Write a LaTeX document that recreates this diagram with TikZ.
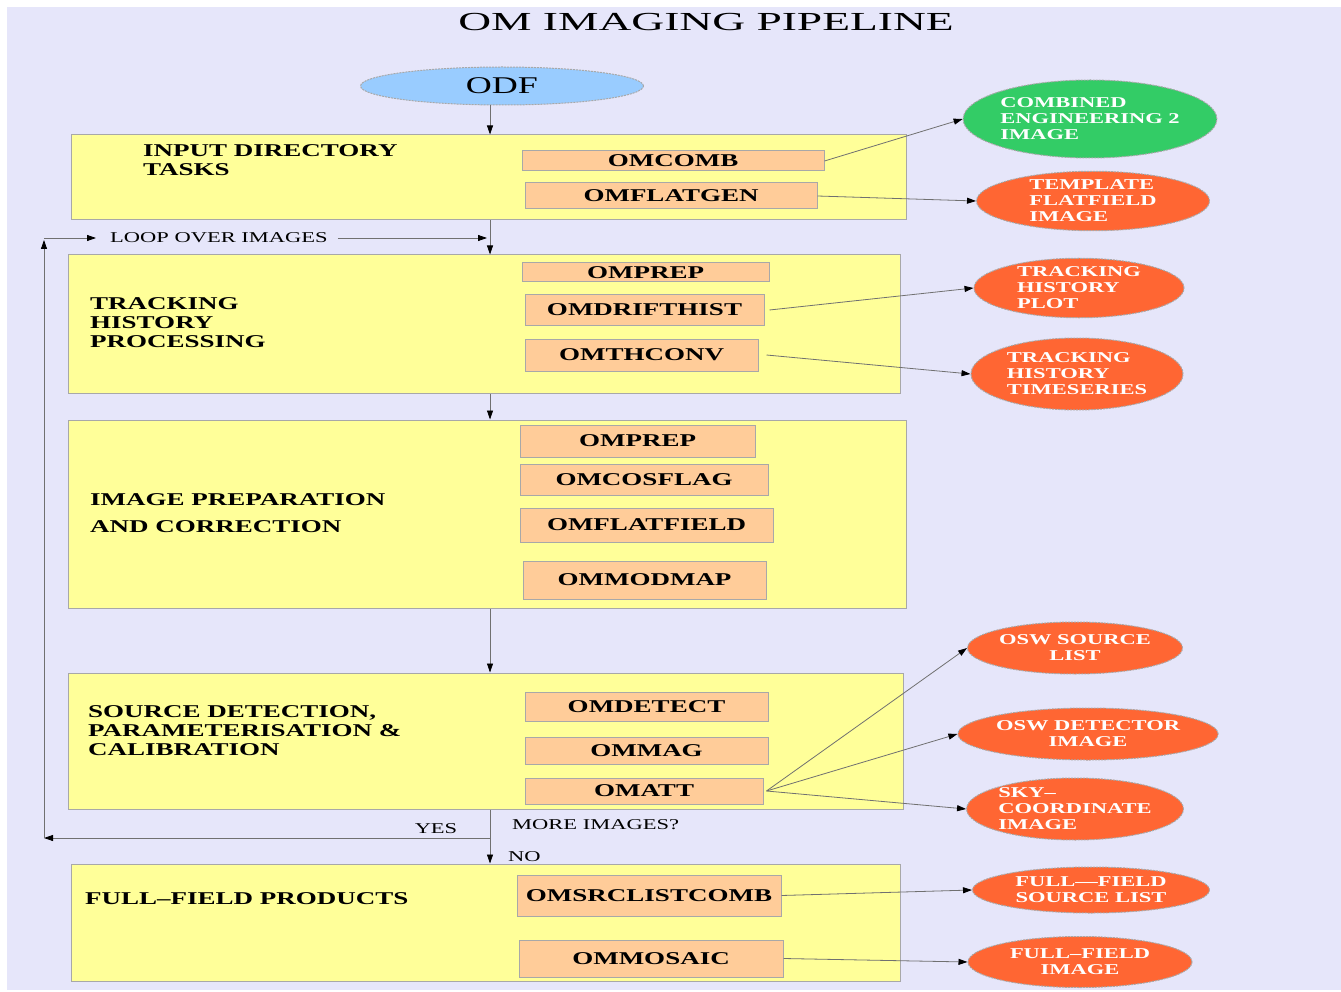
\documentclass[tikz,border=0pt]{standalone}
\usepackage{fontspec}
\setmainfont{Liberation Serif}[FakeStretch=1.5]
\newfontfamily\titlefont{Liberation Serif}[FakeStretch=1.75]
\usetikzlibrary{shapes.geometric,arrows.meta,fit}
\definecolor{bglav}{HTML}{E6E6FA}
\definecolor{stageyellow}{HTML}{FFFF99}
\definecolor{taskorange}{HTML}{FFCC99}
\definecolor{prodred}{HTML}{FF6633}
\definecolor{prodgreen}{HTML}{33CC66}
\definecolor{odfblue}{HTML}{99CCFF}
\definecolor{bordergray}{HTML}{A8A8A8}
\definecolor{linegray}{HTML}{707070}
\tikzset{
  stage/.style={draw=bordergray, fill=stageyellow, inner sep=0pt, line width=1pt},
  task/.style={draw=bordergray, fill=taskorange, inner sep=0pt, line width=1pt},
  tasktext/.style={inner sep=0pt, font=\fontsize{18}{19}\selectfont\bfseries},
  stagelabel/.style={anchor=west, align=left, inner sep=0pt,
    font=\fontsize{18}{19}\selectfont\bfseries},
  prod/.style={ellipse, draw=bordergray, dash pattern=on 2pt off 1pt, line width=1pt,
    fill=prodred, inner sep=0pt, text=white, align=left,
    font=\fontsize{15}{16}\selectfont\bfseries},
  small/.style={inner sep=0pt, font=\fontsize{15}{16}\selectfont},
  conn/.style={draw=linegray, line width=0.8pt,
    -{Triangle[length=9pt,width=6pt,color=black]}},
  plain/.style={draw=linegray, line width=0.8pt}
}
\begin{document}
\begin{tikzpicture}[x=1pt,y=-1pt]
\path[use as bounding box, fill=white] (0,0) rectangle (1341,992);
\fill[bglav] (7,7) rectangle (1341,990);

% title
\node[inner sep=0pt, font=\titlefont\fontsize{26}{28}\selectfont] (title) at (706,22) {OM IMAGING PIPELINE};

% ODF
\node[ellipse, draw=bordergray, dash pattern=on 2pt off 1pt, line width=1pt, fill=odfblue,
  minimum width=283pt, minimum height=38pt, inner sep=0pt,
  font=\fontsize{24}{26}\selectfont] (odf) at (502,86) {ODF};

\coordinate (mainx) at (490,0);

% stage 1
\node[stage, fit={(71,135) (906,220)}] (b1) {};
\node[stagelabel] (l1) at (143,160) {INPUT DIRECTORY\\TASKS};
\node[task, fit={(522,151) (824,171)}, label={[tasktext]center:OMCOMB}] (omcomb) {};
\node[task, fit={(525,183) (817,209)}, label={[tasktext]center:OMFLATGEN}] (omflatgen) {};
\node[prod, fill=prodgreen, minimum width=239pt, minimum height=78pt] (ce2) at (1090,119) {COMBINED\\ENGINEERING 2\\IMAGE};
\node[prod, minimum width=233pt, minimum height=51pt] (tff) at (1093,201) {TEMPLATE\\FLATFIELD\\IMAGE};

% stage 2
\node[stage, fit={(68,255) (900,393)}] (b2) {};
\node[stagelabel] (l2) at (90,323) {TRACKING\\HISTORY\\PROCESSING};
\node[task, fit={(522,263) (769,282)}, label={[tasktext]center:OMPREP}] (omprepa) {};
\node[task, fit={(525,295) (764,325)}, label={[tasktext]center:OMDRIFTHIST}] (omdrift) {};
\node[task, fit={(525,339) (758,371)}, label={[tasktext]center:OMTHCONV}] (omthconv) {};
\node[prod, minimum width=210pt, minimum height=58pt] (thp) at (1079,288) {TRACKING\\HISTORY\\PLOT};
\node[prod, minimum width=212pt, minimum height=72pt] (tht) at (1077,374) {TRACKING\\HISTORY\\TIMESERIES};

% stage 3
\node[stage, fit={(68,420) (906,608)}] (b3) {};
\node[stagelabel, font=\fontsize{18}{27}\selectfont\bfseries] (l3) at (90,513) {IMAGE PREPARATION\\AND CORRECTION};
\node[task, fit={(520,425) (755,457)}, label={[tasktext]center:OMPREP}] (omprepb) {};
\node[task, fit={(520,464) (768,495)}, label={[tasktext]center:OMCOSFLAG}] (omcosflag) {};
\node[task, fit={(520,508) (773,542)}, label={[tasktext]center:OMFLATFIELD}] (omflatfield) {};
\node[task, fit={(523,561) (766,599)}, label={[tasktext]center:OMMODMAP}] (ommodmap) {};

% stage 4
\node[stage, fit={(68,673) (903,809)}] (b4) {};
\node[stagelabel] (l4) at (88,731) {SOURCE DETECTION,\\PARAMETERISATION \&\\CALIBRATION};
\node[task, fit={(525,692) (768,721)}, label={[tasktext]center:OMDETECT}] (omdetect) {};
\node[task, fit={(525,737) (768,764)}, label={[tasktext]center:OMMAG}] (ommag) {};
\node[task, fit={(525,778) (763,804)}, label={[tasktext]center:OMATT}] (omatt) {};
\node[prod, align=center, minimum width=215pt, minimum height=52pt] (oswsrc) at (1075,648) {OSW SOURCE\\LIST};
\node[prod, align=center, minimum width=222pt, minimum height=52pt] (oswdet) at (1088,734) {OSW DETECTOR\\IMAGE};
\node[prod, minimum width=215pt, minimum height=62pt] (sky) at (1075,809) {SKY–\\COORDINATE\\IMAGE};

% stage 5
\node[stage, fit={(71,864) (900,981)}] (b5) {};
\node[stagelabel] (l5) at (85,899) {FULL–FIELD PRODUCTS};
\node[task, fit={(517,875) (781,916)}, label={[tasktext]center:OMSRCLISTCOMB}] (omsrclist) {};
\node[task, fit={(519,940) (783,977)}, label={[tasktext]center:OMMOSAIC}] (ommosaic) {};
\node[prod, align=center, minimum width=237pt, minimum height=46pt] (ffsrc) at (1091,890) {FULL—FIELD\\SOURCE LIST};
\node[prod, align=center, minimum width=224pt, minimum height=51pt] (ffimg) at (1080,962) {FULL–FIELD\\IMAGE};

% loop labels
\node[small, anchor=west] (loop) at (110,238) {LOOP OVER IMAGES};
\node[small, anchor=west] (more) at (512,825) {MORE IMAGES?};
\node[small] (yes) at (436,829) {YES};
\node[small, anchor=west] (no) at (508,857) {NO};

\coordinate (dec) at (490,838);
\coordinate (yesL) at (44,838);
\coordinate (loopC) at (44,240);
\coordinate (loopS) at (44,238);
\coordinate (loopE) at (487,238);

% main flow
\draw[conn] (odf.south -| mainx) -- (b1.north -| mainx);
\draw[conn] (b1.south -| mainx) -- (b2.north -| mainx);
\draw[conn] (b2.south -| mainx) -- (b3.north -| mainx);
\draw[conn] (b3.south -| mainx) -- (b4.north -| mainx);
\draw[plain] (b4.south -| mainx) -- (dec);
\draw[conn] (dec) -- (b5.north -| mainx);
\draw[conn] (dec) -- (yesL);
\draw[conn] (yesL) -- (loopC);
\draw[conn] (loopS) -- ([xshift=-14pt]loop.west);
\draw[conn] ([xshift=10pt]loop.east) -- (loopE);

% products
\draw[conn] (omcomb.east) -- (ce2.west);
\draw[conn] (omflatgen.east) -- (tff.west);
\draw[conn] ([xshift=5pt]omdrift.east) -- (thp.west);
\draw[conn] ([xshift=8pt]omthconv.east) -- (tht.west);
\draw[conn] ([xshift=3pt]omatt.east) -- (oswsrc.west);
\draw[conn] ([xshift=3pt]omatt.east) -- (oswdet.west);
\draw[conn] ([xshift=3pt]omatt.east) -- (sky.west);
\draw[conn] (omsrclist.east) -- (ffsrc.west);
\draw[conn] (ommosaic.east) -- (ffimg.west);
\end{tikzpicture}
\end{document}
